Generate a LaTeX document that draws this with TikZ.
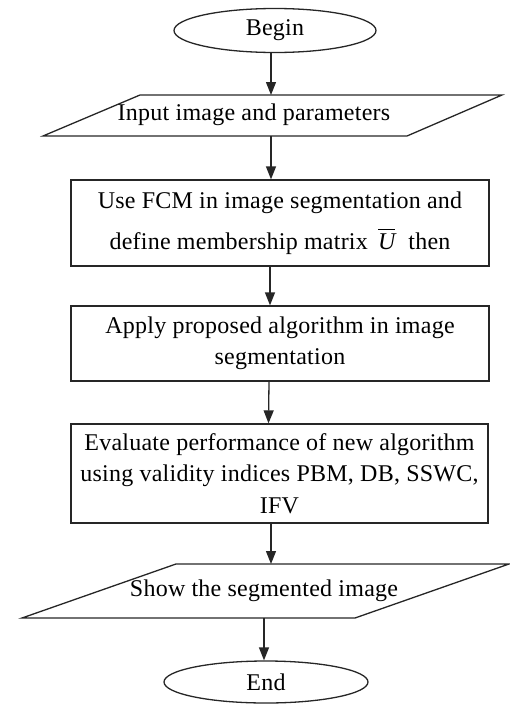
\documentclass[tikz,border=0pt]{standalone}
\usepackage{fontspec}
\setmainfont[LetterSpace=1.0]{Liberation Serif}
\usetikzlibrary{shapes.geometric,arrows.meta}
\begin{document}
\begin{tikzpicture}[x=1pt,y=-1pt,
  line width=1.3pt,
  ln/.style={draw=black!85},
  txt/.style={font=\fontsize{24}{31.5}\selectfont, inner sep=0pt, align=center, text=black},
  term/.style={ln, ellipse, inner sep=0pt, txt},
  procbox/.style={ln, rectangle, inner sep=0pt, txt, minimum width=418pt},
  flow/.style={ln, -{Triangle[length=13pt,width=10pt]}}
]
\useasboundingbox (0,0) rectangle (510,704);

% terminals
\node[term, minimum width=202pt, minimum height=44pt] (begin) at (275,30.5) {Begin};
\node[term, minimum width=204pt, minimum height=42pt] (end) at (266,682) {End};

% input parallelogram
\draw[ln] (140,95) -- (502,95) -- (407,136) -- (43,136) -- cycle;
\node[txt, anchor=base] (input) at (254,120) {Input image and parameters};
\coordinate (inputtop) at (271,95);
\coordinate (inputbot) at (271,136);

% process boxes
\node[procbox, minimum height=86pt] (fcm) at (280,223)
  {\raisebox{4pt}{Use FCM in image segmentation and}\\[5.5pt] define membership matrix \,$\overline{\rule{0pt}{19pt}\mbox{\itshape U}}$\; then};
\node[procbox, minimum height=75pt] (apply) at (280,343.5)
  {Apply proposed algorithm in image\\ segmentation};
\node[procbox, minimum height=99pt, minimum width=417pt] (eval) at (279.5,473.5)
  {Evaluate performance of new algorithm\\ using validity indices PBM, DB, SSWC,\\ IFV};

% output parallelogram
\draw[ln] (176,564) -- (509,564) -- (355,618) -- (22,618) -- cycle;
\node[txt, anchor=base] (output) at (264,596) {Show the segmented image};
\coordinate (outputtop) at (271,564);
\coordinate (outputbot) at (264,618);

% connectors
\draw[flow] ([xshift=-4pt]begin.south) -- (inputtop);
\draw[flow] (inputbot) -- (fcm.north -| inputbot);
\draw[flow] ([xshift=-10pt]fcm.south) -- ([xshift=-10pt]apply.north);
\draw[flow] ([xshift=-11pt]apply.south) -- ([xshift=-11pt]eval.north);
\draw[flow] (eval.south -| outputtop) -- (outputtop);
\draw[flow] (outputbot) -- (end.north -| outputbot);
\end{tikzpicture}
\end{document}
